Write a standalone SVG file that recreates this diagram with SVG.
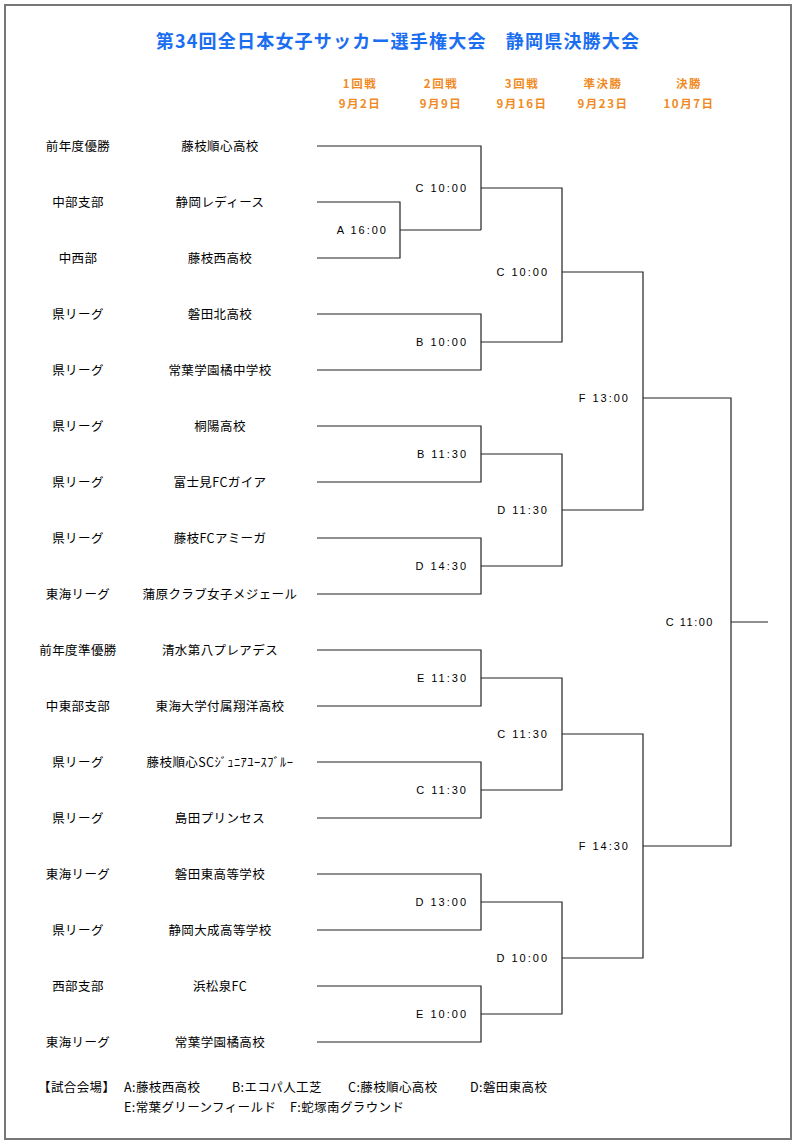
<svg xmlns="http://www.w3.org/2000/svg" width="796" height="1145" viewBox="0 0 796 1145">
<style>
.t{font-family:"Noto Sans CJK JP","Liberation Sans",sans-serif;font-size:12.5px;letter-spacing:0.4px;fill:#000;}
.c{text-anchor:middle;}
.lab{font-family:"Liberation Sans","Noto Sans CJK JP",sans-serif;font-size:11px;letter-spacing:2px;text-anchor:end;fill:#000;}
.hd{font-family:"Noto Sans CJK JP","Liberation Sans",sans-serif;font-size:11.5px;font-weight:bold;fill:#f08a24;text-anchor:middle;letter-spacing:1.5px;}
.ttl{font-family:"Noto Sans CJK JP","Liberation Sans",sans-serif;font-size:18px;font-weight:bold;fill:#1a6ef0;text-anchor:middle;letter-spacing:1.2px;}
.ln{fill:none;stroke:#222;stroke-width:1.2;}
</style>
<rect x="5" y="5" width="786" height="1134" fill="#fff" stroke="#777" stroke-width="2"/>
<text class="ttl" x="398" y="48">第34回全日本女子サッカー選手権大会　静岡県決勝大会</text>
<g id="headers">
<text class="hd" x="360" y="88">1回戦</text><text class="hd" x="360" y="108">9月2日</text>
<text class="hd" x="441" y="88">2回戦</text><text class="hd" x="441" y="108">9月9日</text>
<text class="hd" x="522" y="88">3回戦</text><text class="hd" x="522" y="108">9月16日</text>
<text class="hd" x="603" y="88">準決勝</text><text class="hd" x="603" y="108">9月23日</text>
<text class="hd" x="689" y="88">決勝</text><text class="hd" x="689" y="108">10月7日</text>
</g>
<g id="teams">
<g id="team1"><text class="t c" x="78" y="151">前年度優勝</text><text class="t c" x="220" y="151">藤枝順心高校</text></g>
<g id="team2"><text class="t c" x="78" y="207">中部支部</text><text class="t c" x="220" y="207">静岡レディース</text></g>
<g id="team3"><text class="t c" x="78" y="263">中西部</text><text class="t c" x="220" y="263">藤枝西高校</text></g>
<g id="team4"><text class="t c" x="78" y="319">県リーグ</text><text class="t c" x="220" y="319">磐田北高校</text></g>
<g id="team5"><text class="t c" x="78" y="375">県リーグ</text><text class="t c" x="220" y="375">常葉学園橘中学校</text></g>
<g id="team6"><text class="t c" x="78" y="431">県リーグ</text><text class="t c" x="220" y="431">桐陽高校</text></g>
<g id="team7"><text class="t c" x="78" y="487">県リーグ</text><text class="t c" x="220" y="487">富士見FCガイア</text></g>
<g id="team8"><text class="t c" x="78" y="543">県リーグ</text><text class="t c" x="220" y="543">藤枝FCアミーガ</text></g>
<g id="team9"><text class="t c" x="78" y="599">東海リーグ</text><text class="t c" x="220" y="599">蒲原クラブ女子メジェール</text></g>
<g id="team10"><text class="t c" x="78" y="655">前年度準優勝</text><text class="t c" x="220" y="655">清水第八プレアデス</text></g>
<g id="team11"><text class="t c" x="78" y="711">中東部支部</text><text class="t c" x="220" y="711">東海大学付属翔洋高校</text></g>
<g id="team12"><text class="t c" x="78" y="767">県リーグ</text><text class="t c" x="220" y="767">藤枝順心SCｼﾞｭﾆｱﾕｰｽﾌﾞﾙｰ</text></g>
<g id="team13"><text class="t c" x="78" y="823">県リーグ</text><text class="t c" x="220" y="823">島田プリンセス</text></g>
<g id="team14"><text class="t c" x="78" y="879">東海リーグ</text><text class="t c" x="220" y="879">磐田東高等学校</text></g>
<g id="team15"><text class="t c" x="78" y="935">県リーグ</text><text class="t c" x="220" y="935">静岡大成高等学校</text></g>
<g id="team16"><text class="t c" x="78" y="991">西部支部</text><text class="t c" x="220" y="991">浜松泉FC</text></g>
<g id="team17"><text class="t c" x="78" y="1047">東海リーグ</text><text class="t c" x="220" y="1047">常葉学園橘高校</text></g>
</g>
<g id="connectors" class="ln">
<path d="M317 146H481V230"/>
<path d="M317 202H400V258H317"/>
<path d="M400 230H481"/>
<path d="M481 188H562V342H481"/>
<path d="M317 314H481V370H317"/>
<path d="M562 272H643V510H562"/>
<path d="M317 426H481V482H317"/>
<path d="M481 454H562V566H481"/>
<path d="M317 538H481V594H317"/>
<path d="M643 398H731V846H643"/>
<path d="M731 622H768"/>
<path d="M317 650H481V706H317"/>
<path d="M481 678H562V790H481"/>
<path d="M317 762H481V818H317"/>
<path d="M562 734H643V958H562"/>
<path d="M317 874H481V930H317"/>
<path d="M481 902H562V1014H481"/>
<path d="M317 986H481V1042H317"/>
</g>
<g id="matches">
<text class="lab" x="388" y="234">A 16:00</text>
<text class="lab" x="468" y="192">C 10:00</text>
<text class="lab" x="468" y="346">B 10:00</text>
<text class="lab" x="468" y="458">B 11:30</text>
<text class="lab" x="468" y="570">D 14:30</text>
<text class="lab" x="468" y="682">E 11:30</text>
<text class="lab" x="468" y="794">C 11:30</text>
<text class="lab" x="468" y="906">D 13:00</text>
<text class="lab" x="468" y="1018">E 10:00</text>
<text class="lab" x="549" y="276">C 10:00</text>
<text class="lab" x="549" y="514">D 11:30</text>
<text class="lab" x="549" y="738">C 11:30</text>
<text class="lab" x="549" y="962">D 10:00</text>
<text class="lab" x="630" y="402">F 13:00</text>
<text class="lab" x="630" y="850">F 14:30</text>
<text class="lab" x="714" y="626" style="letter-spacing:1.5px">C 11:00</text>
</g>
<g id="legend">
<text class="t" x="38" y="1092">【試合会場】</text>
<text class="t" x="124" y="1092">A:藤枝西高校</text>
<text class="t" x="232" y="1092">B:エコパ人工芝</text>
<text class="t" x="348" y="1092">C:藤枝順心高校</text>
<text class="t" x="470" y="1092">D:磐田東高校</text>
<text class="t" x="124" y="1112">E:常葉グリーンフィールド</text>
<text class="t" x="290" y="1112">F:蛇塚南グラウンド</text>
</g>
</svg>
